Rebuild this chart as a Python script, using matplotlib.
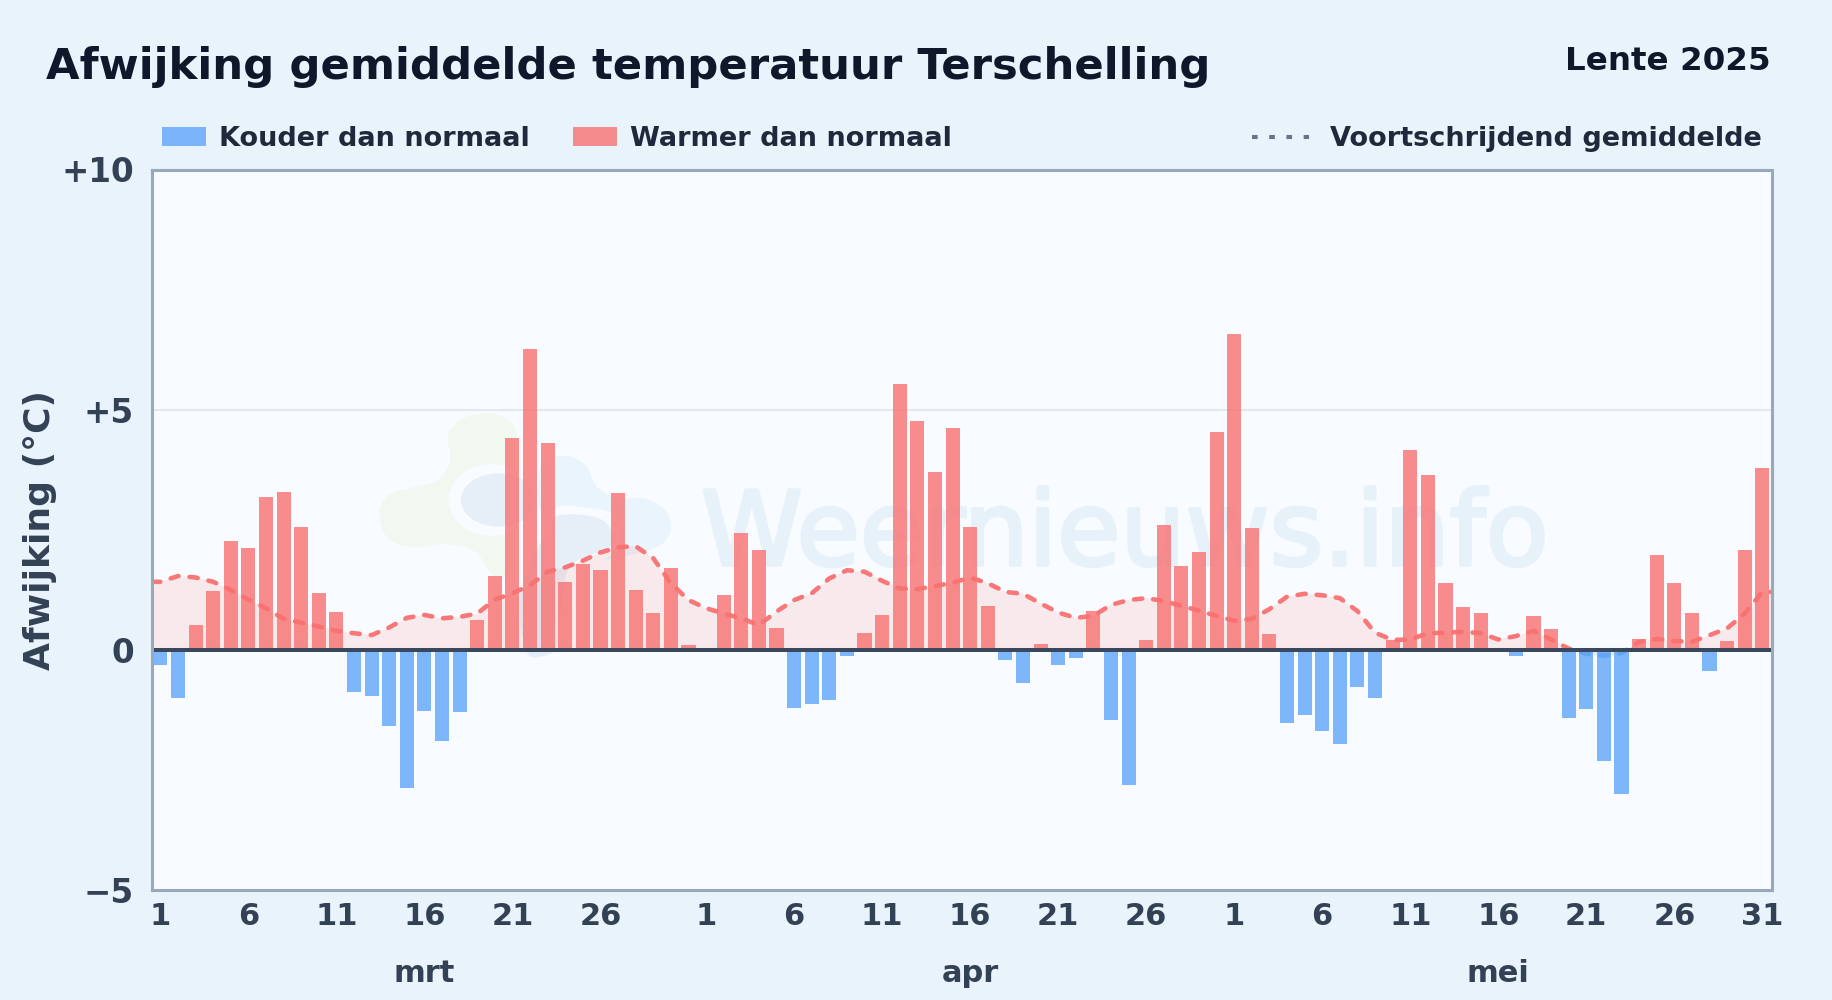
import numpy as np
import matplotlib
matplotlib.use('Agg')
import matplotlib.pyplot as plt
import matplotlib.patheffects as pe
from matplotlib.patches import Ellipse, Rectangle, PathPatch
from matplotlib.path import Path
from matplotlib.lines import Line2D
from matplotlib.transforms import Affine2D, blended_transform_factory

plt.rcParams['font.family'] = 'DejaVu Sans'

# afwijking per dag, 1 mrt t/m 31 mei
mrt = [-0.31, -0.99, 0.52, 1.23, 2.27, 2.12, 3.18, 3.29, 2.56, 1.19, 0.79,
       -0.87, -0.95, -1.58, -2.87, -1.26, -1.89, -1.28, 0.62, 1.54, 4.41,
       6.26, 4.31, 1.42, 1.79, 1.66, 3.27, 1.25, 0.77, 1.71, 0.10]
apr = [-0.05, 1.14, 2.43, 2.08, 0.46, -1.21, -1.12, -1.04, -0.12, 0.35, 0.73,
       5.54, 4.77, 3.70, 4.62, 2.56, 0.92, -0.20, -0.68, 0.12, -0.31, -0.16,
       0.81, -1.45, -2.80, 0.21, 2.60, 1.75, 2.04, 4.54]
mei = [6.58, 2.54, 0.33, -1.51, -1.35, -1.68, -1.95, -0.76, -0.99, 0.21, 4.16,
       3.64, 1.39, 0.89, 0.77, 0.0, -0.12, 0.71, 0.44, -1.41, -1.22, -2.30,
       -2.99, 0.24, 1.98, 1.39, 0.77, -0.43, 0.19, 2.08, 3.79]

# voortschrijdend gemiddelde
gem = [1.42, 1.54, 1.51, 1.42, 1.25, 1.05, 0.87, 0.65, 0.57, 0.49, 0.40,
       0.35, 0.31, 0.47, 0.67, 0.73, 0.66, 0.69, 0.76, 1.05, 1.18, 1.35,
       1.63, 1.72, 1.86, 2.03, 2.14, 2.16, 1.91, 1.39, 1.04, 0.87,
       0.76, 0.66, 0.52, 0.80, 1.04, 1.18, 1.49, 1.66, 1.63, 1.44, 1.28,
       1.27, 1.33, 1.40, 1.51, 1.39, 1.21, 1.17, 0.97, 0.78, 0.67, 0.71,
       0.94, 1.04, 1.08, 1.02, 0.92, 0.82, 0.71, 0.61,
       0.65, 0.85, 1.11, 1.17, 1.14, 1.08, 0.81, 0.36, 0.21, 0.22, 0.35,
       0.36, 0.38, 0.35, 0.22, 0.29, 0.40, 0.22, 0.03, -0.08, -0.12, -0.06,
       0.17, 0.23, 0.19, 0.17, 0.31, 0.45, 0.76, 1.21]

day_labels = [1, 6, 11, 16, 21, 26, 1, 6, 11, 16, 21, 26, 1, 6, 11, 16, 21, 26, 31]
day_ticks = [0, 5, 10, 15, 20, 25, 31, 36, 41, 46, 51, 56, 61, 66, 71, 76, 81, 86, 91]
month_names = ['mrt', 'apr', 'mei']
month_pos = [15, 46, 76]
y_ticks = [-5, 0, 5, 10]
y_labels = ['\u22125', '0', '+5', '+10']

BG = '#e8f3fc'
PLOT_BG = '#f8fbff'
RED = '#f87171'
BLUE = '#60a5fa'

values = np.array(mrt + apr + mei)
x = np.arange(len(values))
gem = np.array(gem)

fig = plt.figure(figsize=(18.32, 10), dpi=100, facecolor=BG)
ax = fig.add_axes([152 / 1832, 1 - 890.3 / 1000, 1619.5 / 1832, 720.8 / 1000])
ax.set_facecolor(PLOT_BG)
ax.set_xlim(-0.475, 91.52)
ax.set_ylim(-5, 10)

# pixels from the top left, for everything that is not data
px = Affine2D().scale(1, -1).translate(0, 1000)


def blob(points, color, z):
    # closed smooth outline through the points, given in crop coords of the logo
    p = np.array(points) / 3 + [370, 400]
    n = len(p)
    verts = [p[0]]
    codes = [Path.MOVETO]
    for i in range(n):
        verts.append(p[i] + (p[(i + 1) % n] - p[i - 1]) / 6)
        verts.append(p[(i + 1) % n] - (p[(i + 2) % n] - p[i]) / 6)
        verts.append(p[(i + 1) % n])
        codes += [Path.CURVE4] * 3
    ax.add_patch(PathPatch(Path(verts, codes), transform=px, facecolor=color, lw=0, zorder=z))


# watermark
blob([(235, 100), (290, 50), (370, 42), (430, 75), (440, 150), (440, 420), (420, 520), (370, 525),
      (315, 455), (230, 432), (130, 442), (55, 415), (28, 345), (55, 285), (130, 262), (205, 240),
      (240, 180)], '#f1f8ef', 0.5)
blob([(540, 175), (600, 170), (650, 200), (680, 260), (740, 295), (830, 297), (895, 345), (895, 410),
      (840, 450), (700, 480), (580, 500), (510, 330), (510, 210)], '#e9f4fd', 0.51)
ax.add_patch(Ellipse((370 + 365 / 3, 400 + 300 / 3), 260 / 3, 215 / 3, transform=px, color=PLOT_BG,
                     lw=0, zorder=0.52))
ax.add_patch(Ellipse((370 + 385 / 3, 400 + 300 / 3), 225 / 3, 160 / 3, transform=px, color='#e6eff8',
                     lw=0, zorder=0.53))
blob([(555, 328), (640, 322), (730, 345), (740, 450), (600, 510), (540, 450)], PLOT_BG, 0.54)
blob([(555, 350), (640, 345), (710, 370), (720, 440), (600, 500), (570, 650), (560, 740), (520, 768),
      (470, 755), (450, 600), (500, 450), (540, 400)], '#e6eff8', 0.55)
ax.text(701, 565, 'Weernieuws.info', transform=px, fontsize=74, color='#e6f1fa',
        ha='left', va='baseline', zorder=0.6,
        path_effects=[pe.withStroke(linewidth=2.5, foreground='#e6f1fa')])

ax.axhline(5, color='#e2e8f0', lw=1.5, zorder=1)

# gemiddelde loopt door tot aan de randen van de as
line_x = np.concatenate([[-0.475], x, [91.52]])
line_y = np.concatenate([[gem[0]], gem, [gem[-1]]])
ax.fill_between(line_x, 0, line_y, where=line_y >= 0, interpolate=True, color=RED, alpha=0.13, lw=0, zorder=1.2)
ax.fill_between(line_x, 0, line_y, where=line_y <= 0, interpolate=True, color=BLUE, alpha=0.13, lw=0, zorder=1.2)

cols = [RED if v >= 0 else BLUE for v in values]
ax.bar(x, values, width=0.8, color=cols, alpha=0.8, lw=0, zorder=2)

for col, y0, y1 in [(RED, 0, 10), (BLUE, -5, 0)]:
    ln, = ax.plot(line_x, line_y, color=col, lw=3.3, alpha=0.95, linestyle=(0, (1.8, 2.4)),
                  dash_capstyle='round', zorder=3)
    ln.set_clip_path(Rectangle((-0.475, y0), 92, y1 - y0, transform=ax.transData))

ax.axhline(0, color='#3a485e', lw=2.9, zorder=4)

for s in ax.spines.values():
    s.set_color('#9aa8bc')
    s.set_linewidth(2.2)
    s.set_zorder(5)

ax.set_xticks(day_ticks)
ax.set_xticklabels(day_labels)
ax.set_yticks(y_ticks)
ax.set_yticklabels(y_labels, fontsize=23.5)
ax.tick_params(axis='x', length=0, labelsize=22, labelcolor='#334155', pad=8.5)
ax.tick_params(axis='y', length=0, labelcolor='#334155', pad=13)
for lab in ax.get_xticklabels() + ax.get_yticklabels():
    lab.set_fontweight('bold')

trans = blended_transform_factory(ax.transData, px)
for name, pos in zip(month_names, month_pos):
    ax.text(pos, 982, name, transform=trans, ha='center', va='baseline', fontsize=22,
            fontweight='bold', color='#334155')

fig.text(40, 530, 'Afwijking (°C)', transform=px, rotation=90, ha='center', va='center',
         fontsize=26, fontweight='bold', color='#334155')

fig.text(46, 79, 'Afwijking gemiddelde temperatuur Terschelling', transform=px, fontsize=31.25,
         fontweight='bold', color='#0f172a', ha='left', va='baseline')
fig.text(1771, 70, 'Lente 2025', transform=px, fontsize=23.4, fontweight='bold', color='#0f172a',
         ha='right', va='baseline')

# legend
for x0, col, label, tx in [(162, BLUE, 'Kouder dan normaal', 219), (573, RED, 'Warmer dan normaal', 630)]:
    fig.add_artist(Rectangle((x0, 127), 44, 19, transform=px, color=col, alpha=0.8, lw=0))
    fig.text(tx, 145.5, label, transform=px, fontsize=19.5, fontweight='bold', color='#1e293b',
             ha='left', va='baseline')
fig.add_artist(Line2D([1252, 1309], [137, 137], transform=px, color='#64748b', lw=2.9,
                      linestyle=(0, (1.4, 2.875))))
fig.text(1330, 145.5, 'Voortschrijdend gemiddelde', transform=px, fontsize=19.5, fontweight='bold',
         color='#1e293b', ha='left', va='baseline')

fig.savefig('out.png', dpi=100, facecolor=BG)
